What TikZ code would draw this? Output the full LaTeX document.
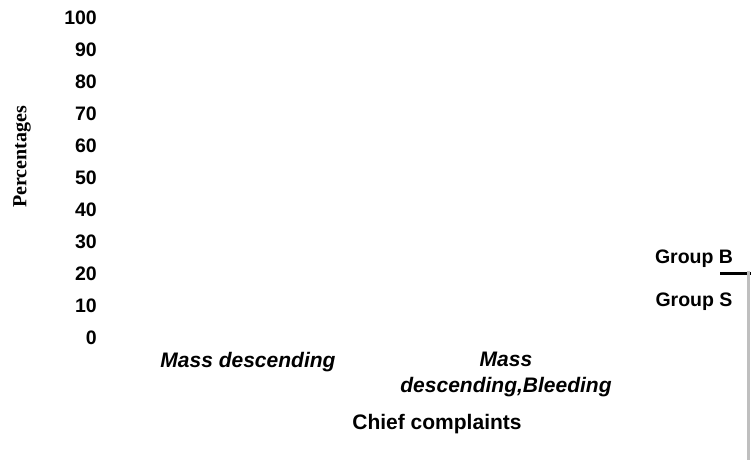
\documentclass[tikz,border=0pt]{standalone}
\usepackage{fontspec}
\setmainfont{Liberation Sans}
\newfontfamily\timesfont{Liberation Serif}
\usetikzlibrary{positioning}

\begin{document}
\begin{tikzpicture}[x=1pt,y=-1pt,
    lbl/.style={font=\fontsize{19.5}{22}\selectfont\bfseries, inner sep=0pt},
    cat/.style={font=\fontsize{21}{26}\selectfont\bfseries\itshape, inner sep=0pt, align=center}]
    \useasboundingbox (0,0) rectangle (751,460);

    % y axis tick labels
    \foreach \v [count=\i from 0] in {100,90,80,70,60,50,40,30,20,10,0}
        \node (tick\v) [lbl, anchor=east] at (97,18+32*\i) {\v};
    \node (ytitle) [inner sep=0pt, rotate=90, font=\fontsize{20}{22}\selectfont\timesfont\bfseries] at (22,157) {Percentages};

    % categories
    \node (cat1) [cat] at (248,362) {Mass descending};
    \node (cat2) [cat] at (506,374) {Mass\\descending,Bleeding};
    \node (xtitle) [lbl, font=\fontsize{21}{24}\selectfont\bfseries] at (437,424) {Chief complaints};

    % legend
    \node (grpB) [lbl] at (694,259) {Group B};
    \node (grpS) [lbl, below=25pt of grpB.south, anchor=north] {Group S};
    \coordinate (keyB) at (720,273);
    \coordinate (keyE) at (751,273);
    \coordinate (edgeT) at (748.5,271);
    \coordinate (edgeB) at (748.5,460);
    \draw [line width=3pt] (keyB) -- (keyE);
    \draw [line width=3pt, color=black!25] (edgeT) -- (edgeB);
\end{tikzpicture}
\end{document}
